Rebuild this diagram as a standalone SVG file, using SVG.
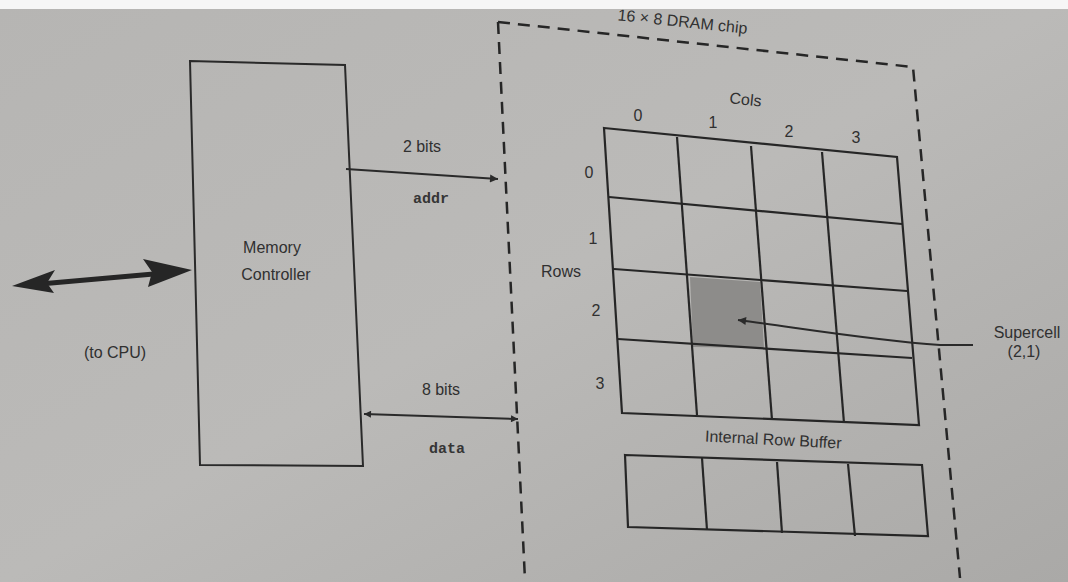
<svg xmlns="http://www.w3.org/2000/svg" width="1068" height="582" viewBox="0 0 1068 582">
<defs>
<linearGradient id="bg" x1="0" y1="0" x2="1" y2="1">
<stop offset="0" stop-color="#b6b5b3"/>
<stop offset="0.5" stop-color="#bbbab8"/>
<stop offset="1" stop-color="#aaa9a7"/>
</linearGradient>
<marker id="ah" viewBox="0 0 10 10" refX="10" refY="5" markerWidth="10" markerHeight="8" orient="auto" markerUnits="userSpaceOnUse">
<path d="M0,0 L10,5 L0,10 z" fill="#2a2a2a"/>
</marker>
<marker id="ahs" viewBox="0 0 10 10" refX="10" refY="5" markerWidth="9" markerHeight="7" orient="auto-start-reverse" markerUnits="userSpaceOnUse">
<path d="M0,0 L10,5 L0,10 z" fill="#2a2a2a"/>
</marker>
</defs>
<style>
.t{font-family:"Liberation Sans",Arial,sans-serif;fill:#303030;font-size:16px}
.m{font-family:"Liberation Mono","Courier New",monospace;font-weight:bold;fill:#353535;font-size:15px}
.ln{fill:none;stroke:#2a2a2a;stroke-width:2}
.cell{fill:none;stroke:#262626;stroke-width:2.2}
</style>
<rect x="0" y="0" width="1068" height="582" fill="url(#bg)"/>
<rect x="0" y="0" width="1068" height="9" fill="#f6f6f6"/>

<g id="cpu">
<text class="t" x="115" y="358" text-anchor="middle">(to CPU)</text>
</g>

<g id="memory-controller">
<polygon class="ln" points="190,61 345,65 363,466 200,465"/>
<text class="t" x="272" y="253" text-anchor="middle" font-size="18">Memory</text>
<text class="t" x="276" y="280" text-anchor="middle" font-size="18">Controller</text>
</g>

<g id="dram-chip">
<polyline fill="none" stroke="#262626" stroke-width="2.5" stroke-dasharray="12,8" points="498,22 913,67 960,578"/>
<line x1="498" y1="22" x2="525" y2="580" stroke="#262626" stroke-width="2.5" stroke-dasharray="12,8"/>
<text class="t" x="682" y="27" text-anchor="middle" font-size="14" transform="rotate(6 682 27)">16 × 8 DRAM chip</text>
<text class="t" x="541" y="277" font-size="15">Rows</text>
<text class="t" x="745" y="105" text-anchor="middle" font-size="14" transform="rotate(6 745 105)">Cols</text>
<text class="t" x="638" y="121" text-anchor="middle" font-size="15">0</text>
<text class="t" x="713" y="128" text-anchor="middle" font-size="15">1</text>
<text class="t" x="789" y="137" text-anchor="middle" font-size="15">2</text>
<text class="t" x="856" y="143" text-anchor="middle" font-size="15">3</text>
<text class="t" x="589" y="178" text-anchor="middle" font-size="15">0</text>
<text class="t" x="593" y="244" text-anchor="middle" font-size="15">1</text>
<text class="t" x="596" y="316" text-anchor="middle" font-size="15">2</text>
<text class="t" x="600" y="389" text-anchor="middle" font-size="15">3</text>
</g>

<g id="supercell-grid">
<polygon points="690,277 760,282 764,348 693,347" fill="#8d8c8a"/>
<polygon class="cell" points="604,128 897,157 919,425 622,413"/>
<line class="cell" x1="609" y1="197" x2="902" y2="224"/>
<line class="cell" x1="614" y1="269" x2="907" y2="291"/>
<line class="cell" x1="618" y1="339" x2="912" y2="358"/>
<line class="cell" x1="677" y1="137" x2="697" y2="415"/>
<line class="cell" x1="751" y1="146" x2="772" y2="420"/>
<line class="cell" x1="822" y1="152" x2="844" y2="423"/>
</g>

<g id="row-buffer">
<text class="t" x="773" y="445" text-anchor="middle" font-size="15" transform="rotate(3 773 445)">Internal Row Buffer</text>
<polygon class="cell" points="625,455 922,465 928,536 628,527"/>
<line class="cell" x1="702" y1="458" x2="707" y2="530"/>
<line class="cell" x1="777" y1="462" x2="782" y2="533"/>
<line class="cell" x1="848" y1="464" x2="855" y2="536"/>
</g>

<g id="supercell-label">
<text class="t" x="1027" y="338" text-anchor="middle" font-size="14">Supercell</text>
<text class="t" x="1024" y="357" text-anchor="middle" font-size="14">(2,1)</text>
</g>

<g id="connectors">
<line x1="40" y1="284" x2="165" y2="273" stroke="#262626" stroke-width="5"/>
<path d="M12,286 L55,270 L47,283 L54,293 Z" fill="#262626"/>
<path d="M192,270 L143,259 L152,272 L148,287 Z" fill="#262626"/>
<line class="ln" x1="346" y1="169" x2="498" y2="179" marker-end="url(#ah)"/>
<line class="ln" x1="364" y1="414" x2="518" y2="419" marker-start="url(#ahs)" marker-end="url(#ahs)"/>
<path class="ln" d="M973,345 L940,345 C870,340 800,328 738,320" marker-end="url(#ah)"/>
<text class="t" x="422" y="152" text-anchor="middle">2 bits</text>
<text class="m" x="431" y="203" text-anchor="middle">addr</text>
<text class="t" x="441" y="395" text-anchor="middle">8 bits</text>
<text class="m" x="447" y="453" text-anchor="middle">data</text>
</g>
</svg>
